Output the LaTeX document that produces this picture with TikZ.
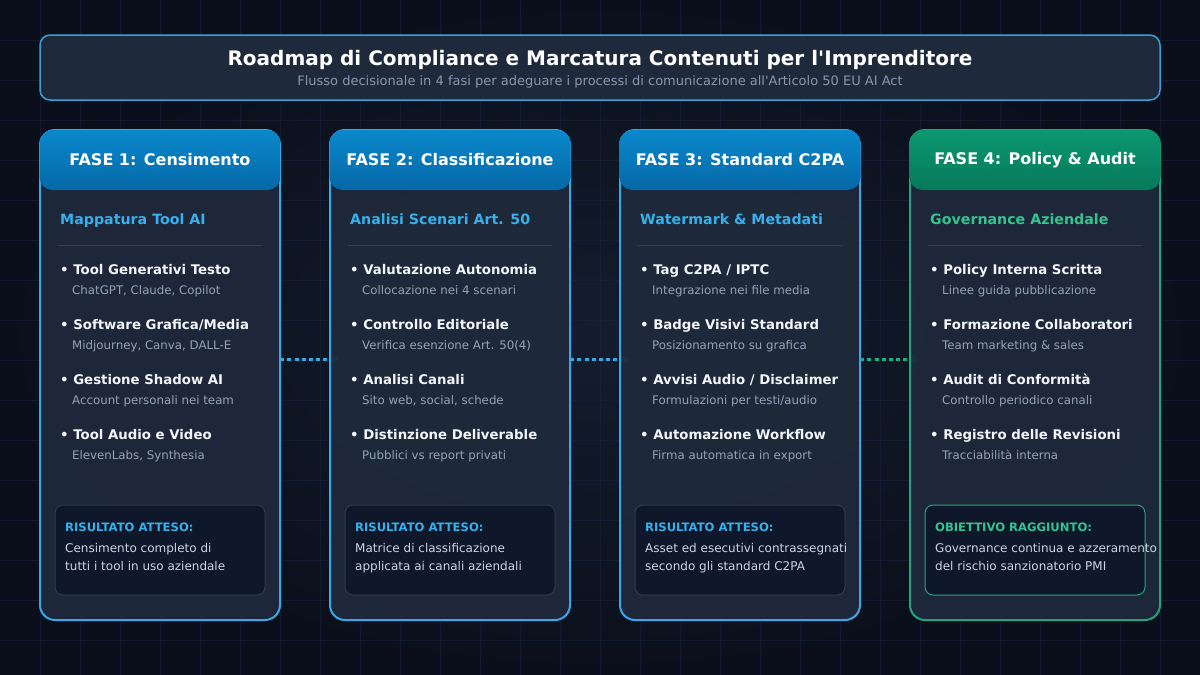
\documentclass[tikz,border=0pt]{standalone}
\usepackage{fontspec}
\setmainfont{DejaVu Sans}[Ligatures=TeXOff]
\usetikzlibrary{arrows.meta,calc}
\definecolor{bgc}{HTML}{0C1220}
\definecolor{bgin}{HTML}{141D2E}
\definecolor{bgout}{HTML}{0A0F1B}
\definecolor{gridc}{HTML}{19223A}
\definecolor{cardfill}{HTML}{1E293B}
\definecolor{cblue}{HTML}{3AA8E6}
\definecolor{hbtop}{HTML}{0A88CC}
\definecolor{hbbot}{HTML}{0568A6}
\definecolor{cgreen}{HTML}{25A47C}
\definecolor{connGreen}{HTML}{1DAF7E}
\definecolor{hgtop}{HTML}{0B9870}
\definecolor{hgbot}{HTML}{06795A}
\definecolor{subblue}{HTML}{38B0EC}
\definecolor{subgreen}{HTML}{36C48E}
\definecolor{sepc}{HTML}{334155}
\definecolor{itemc}{HTML}{F1F5F9}
\definecolor{subc}{HTML}{94A3B8}
\definecolor{resc}{HTML}{CBD5E1}
\definecolor{resfill}{HTML}{0F172A}
\definecolor{resline}{HTML}{2B3A50}
\definecolor{titleline}{HTML}{3C9FD8}
\definecolor{subtitlec}{HTML}{8A97AA}
\tikzset{
  titlebox/.style={draw=titleline, line width=1.5pt, fill=cardfill, rounded corners=10pt},
  card/.style={draw=#1, line width=2pt, fill=cardfill, fill opacity=0.95, draw opacity=1, rounded corners=15pt},
  hdr/.style 2 args={rounded corners=13pt, top color=#1, bottom color=#2, minimum height=60pt, inner sep=0pt},
  hdrtxt/.style={font=\fontsize{16}{19}\selectfont\bfseries, text=white, inner sep=0pt},
  subt/.style={font=\fontsize{14.2}{17}\selectfont\bfseries, text=#1, anchor=base west, inner sep=0pt},
  itemb/.style={font=\fontsize{13.3}{16}\selectfont\bfseries, text=itemc, anchor=base west, inner sep=0pt},
  items/.style={font=\fontsize{11.8}{15}\selectfont, text=subc, anchor=base west, inner sep=0pt},
  resbox/.style={draw=#1, line width=1pt, fill=resfill, rounded corners=8pt, minimum height=90pt, inner sep=0pt},
  reslab/.style={font=\fontsize{11.6}{13}\selectfont\bfseries, text=#1, anchor=base west, inner sep=0pt},
  restxt/.style={font=\fontsize{12}{15}\selectfont, text=resc, anchor=base west, inner sep=0pt},
  conn/.style={draw=#1, line width=3pt, dash pattern=on 4pt off 3.2pt, -{Triangle[length=10pt,width=10pt,fill=#1]}},
}
\newcommand\phitem[5]{%
  \node[itemb] (#1a) at (#2,#3+4.8) {• #4};
  \node[items] (#1b) at (#2+12,#3+24.3) {#5};
}
\begin{document}
\begin{tikzpicture}[x=1pt,y=-1pt]
\shade[inner color=bgin, outer color=bgout] (0,0) rectangle (1200,675);
\useasboundingbox (0,0) rectangle (1200,675);
\foreach \i in {40,80,...,1160} \draw[gridc, line width=0.5pt, opacity=0.6] (\i,0) -- (\i,675);
\foreach \j in {40,80,...,640} \draw[gridc, line width=0.5pt, opacity=0.6] (0,\j) -- (1200,\j);

% title
\node[titlebox, minimum width=1120pt, minimum height=65pt] (tb) at (600,67.5) {};
\node[font=\fontsize{20}{24}\selectfont\bfseries, text=white, inner sep=0pt, anchor=base] (title) at (600,65) {Roadmap di Compliance e Marcatura Contenuti per l'Imprenditore};
\node[font=\fontsize{13}{15}\selectfont, text=subtitlec, inner sep=0pt, anchor=base] (subtitle) at (600,85) {Flusso decisionale in 4 fasi per adeguare i processi di comunicazione all'Articolo 50 EU AI Act};

% card anchors (invisible placeholders to name cards before drawing connectors)
\path (160,375) node[minimum width=240pt, minimum height=490pt, inner sep=0pt] (c1) {};
\path (450,375) node[minimum width=240pt, minimum height=490pt, inner sep=0pt] (c2) {};
\path (740,375) node[minimum width=240pt, minimum height=490pt, inner sep=0pt] (c3) {};
\path (1035,375) node[minimum width=250pt, minimum height=490pt, inner sep=0pt] (c4) {};

% connectors (drawn beneath card bodies, tips mostly hidden)
\draw[conn=cblue] ([yshift=16pt]c1.east) -- ([xshift=10pt,yshift=16pt]c2.west);
\draw[conn=cblue] ([yshift=16pt]c2.east) -- ([xshift=10pt,yshift=16pt]c3.west);
\draw[conn=connGreen] ([yshift=16pt]c3.east) -- ([xshift=10pt,yshift=16pt]c4.west);

% cards
\node[card=cblue, minimum width=240pt, minimum height=490pt] (c1b) at (c1) {};
\node[card=cblue, minimum width=240pt, minimum height=490pt] (c2b) at (c2) {};
\node[card=cblue, minimum width=240pt, minimum height=490pt] (c3b) at (c3) {};
\node[card=cgreen, minimum width=250pt, minimum height=490pt] (c4b) at (c4) {};

% headers
\node[hdr={hbtop}{hbbot}, minimum width=241pt] (h1) at (160,160) {};
\node[hdr={hbtop}{hbbot}, minimum width=241pt] (h2) at (450,160) {};
\node[hdr={hbtop}{hbbot}, minimum width=241pt] (h3) at (740,160) {};
\node[hdr={hgtop}{hgbot}, minimum width=251pt] (h4) at (1035,160) {};
\node[hdrtxt] (h1t) at (160,160) {FASE 1: Censimento};
\node[hdrtxt] (h2t) at (450,160) {FASE 2: Classificazione};
\node[hdrtxt] (h3t) at (740,160) {FASE 3: Standard C2PA};
\node[hdrtxt] (h4t) at (1035,160) {FASE 4: Policy \& Audit};

% subtitles & separators
\node[subt=subblue] (s1) at (60,224) {Mappatura Tool AI};
\node[subt=subblue] (s2) at (350,224) {Analisi Scenari Art. 50};
\node[subt=subblue] (s3) at (640,224) {Watermark \& Metadati};
\node[subt=subgreen] (s4) at (930,224) {Governance Aziendale};
\coordinate (l1a) at (58,245); \coordinate (l1b) at (262,245);
\coordinate (l2a) at (348,245); \coordinate (l2b) at (552,245);
\coordinate (l3a) at (638,245); \coordinate (l3b) at (842,245);
\coordinate (l4a) at (928,245); \coordinate (l4b) at (1142,245);
\draw[sepc, line width=1pt] (l1a) -- (l1b);
\draw[sepc, line width=1pt] (l2a) -- (l2b);
\draw[sepc, line width=1pt] (l3a) -- (l3b);
\draw[sepc, line width=1pt] (l4a) -- (l4b);

% items card 1
\phitem{i11}{60}{270}{Tool Generativi Testo}{ChatGPT, Claude, Copilot}
\phitem{i12}{60}{325}{Software Grafica/Media}{Midjourney, Canva, DALL-E}
\phitem{i13}{60}{380}{Gestione Shadow AI}{Account personali nei team}
\phitem{i14}{60}{435}{Tool Audio e Video}{ElevenLabs, Synthesia}
% items card 2
\phitem{i21}{350}{270}{Valutazione Autonomia}{Collocazione nei 4 scenari}
\phitem{i22}{350}{325}{Controllo Editoriale}{Verifica esenzione Art. 50(4)}
\phitem{i23}{350}{380}{Analisi Canali}{Sito web, social, schede}
\phitem{i24}{350}{435}{Distinzione Deliverable}{Pubblici vs report privati}
% items card 3
\phitem{i31}{640}{270}{Tag C2PA / IPTC}{Integrazione nei file media}
\phitem{i32}{640}{325}{Badge Visivi Standard}{Posizionamento su grafica}
\phitem{i33}{640}{380}{Avvisi Audio / Disclaimer}{Formulazioni per testi/audio}
\phitem{i34}{640}{435}{Automazione Workflow}{Firma automatica in export}
% items card 4
\phitem{i41}{930}{270}{Policy Interna Scritta}{Linee guida pubblicazione}
\phitem{i42}{930}{325}{Formazione Collaboratori}{Team marketing \& sales}
\phitem{i43}{930}{380}{Audit di Conformità}{Controllo periodico canali}
\phitem{i44}{930}{435}{Registro delle Revisioni}{Tracciabilità interna}

% result boxes
\node[resbox=resline, minimum width=210pt] (r1) at (160,550) {};
\node[resbox=resline, minimum width=210pt] (r2) at (450,550) {};
\node[resbox=resline, minimum width=210pt] (r3) at (740,550) {};
\node[resbox=cgreen, minimum width=220pt] (r4) at (1035,550) {};
\node[reslab=subblue] (r1l) at (65,531.2) {RISULTATO ATTESO:};
\node[reslab=subblue] (r2l) at (355,531.2) {RISULTATO ATTESO:};
\node[reslab=subblue] (r3l) at (645,531.2) {RISULTATO ATTESO:};
\node[reslab=subgreen] (r4l) at (935,531.2) {OBIETTIVO RAGGIUNTO:};
\node[restxt] (r1a) at (65,552.3) {Censimento completo di};
\node[restxt] (r1b) at (65,570.3) {tutti i tool in uso aziendale};
\node[restxt] (r2a) at (355,552.3) {Matrice di classificazione};
\node[restxt] (r2b) at (355,570.3) {applicata ai canali aziendali};
\node[restxt] (r3a) at (645,552.3) {Asset ed esecutivi contrassegnati};
\node[restxt] (r3b) at (645,570.3) {secondo gli standard C2PA};
\node[restxt] (r4a) at (935,552.3) {Governance continua e azzeramento};
\node[restxt] (r4b) at (935,570.3) {del rischio sanzionatorio PMI};
\end{tikzpicture}
\end{document}
